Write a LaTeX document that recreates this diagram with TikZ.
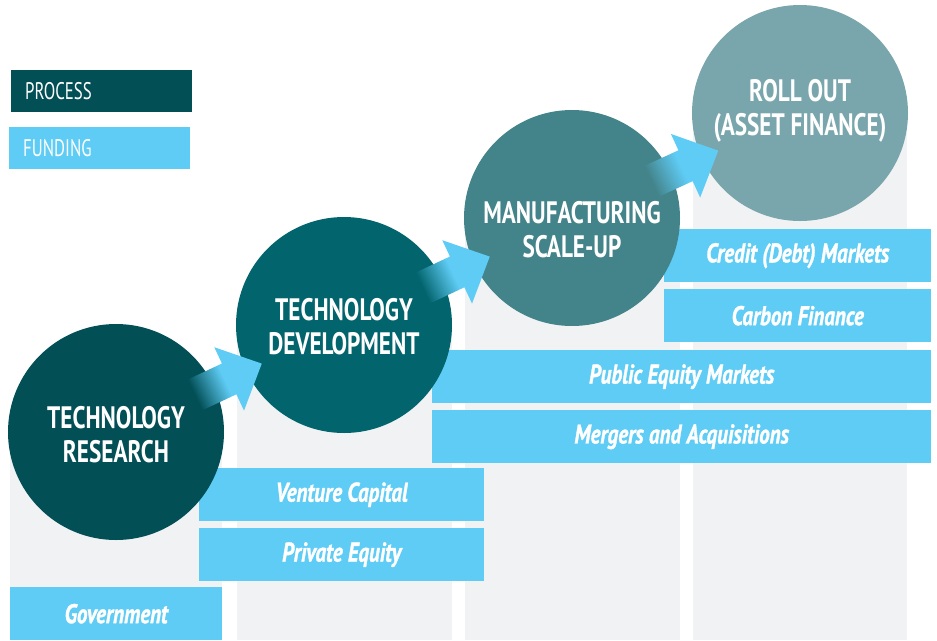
\documentclass[tikz,border=0pt]{standalone}
\usepackage{fontspec}
\usetikzlibrary{calc}
\newfontfamily\circfont[FakeStretch=0.75]{PT Sans}
\newfontfamily\fundfont[FakeStretch=0.78, FakeBold=1.2]{PT Sans}
\newfontfamily\legfont[FakeStretch=0.70]{PT Sans}
\definecolor{cA}{HTML}{024F56}
\definecolor{cB}{HTML}{02646D}
\definecolor{cC}{HTML}{43838A}
\definecolor{cD}{HTML}{79A6AC}
\definecolor{fund}{HTML}{5FCCF5}
\definecolor{colbg}{HTML}{F1F2F4}
\pgfdeclarehorizontalshading{shadeA}{100bp}{color(0bp)=(cA); color(30bp)=(cA); color(52bp)=(fund); color(100bp)=(fund)}
\pgfdeclarehorizontalshading{shadeB}{100bp}{color(0bp)=(cB); color(30bp)=(cB); color(52bp)=(fund); color(100bp)=(fund)}
\pgfdeclarehorizontalshading{shadeC}{100bp}{color(0bp)=(cC); color(30bp)=(cC); color(52bp)=(fund); color(100bp)=(fund)}
\newcommand{\stagearrow}[3]{%
  \path[shading=#3, shading angle=25]
    ($(#1)!80pt!(#2)$) coordinate (#1-t)
    ($(#1)!125pt!(#2)$) coordinate (#1-b)
    ($(#1)!161pt!(#2)$) coordinate (#1-h)
    ($(#1-t)!17pt!90:(#2)$) -- ($(#1-b)!17pt!90:(#1-h)$) -- ($(#1-b)!35pt!90:(#1-h)$)
    -- (#1-h) -- ($(#1-b)!35pt!-90:(#1-h)$) -- ($(#1-b)!17pt!-90:(#1-h)$)
    -- ($(#1-t)!17pt!-90:(#2)$) -- cycle;}
\begin{document}
\begin{tikzpicture}[x=1pt,y=-1pt,
  proc/.style={circle, minimum size=216pt, inner sep=0pt, draw=none},
  proctext/.style={text=white, align=center, inner sep=0pt,
    font=\circfont\bfseries\fontsize{31}{34}\selectfont},
  fundbox/.style={fill=fund, anchor=north west, minimum height=53pt, inner sep=0pt,
    text=white, font=\fundfont\bfseries\itshape\fontsize{27}{30}\selectfont},
  legbox/.style={anchor=north west, minimum height=42pt, inner xsep=14pt, inner ysep=0pt,
    text width=153pt, align=left, text=white, font=\legfont\fontsize{24}{28}\selectfont}]
\useasboundingbox (0,0) rectangle (937,640);
% columns
\fill[colbg] (10,432) rectangle (222,640);
\fill[colbg] (237,325) rectangle (452,640);
\fill[colbg] (465,218) rectangle (680,640);
\fill[colbg] (693,113) rectangle (907,640);
% legend
\node[legbox, fill=cA] (lproc) at (11,70) {PROCESS};
\node[legbox, fill=fund] (lfund) at (9,127) {FUNDING};
% funding boxes
\node[fundbox, minimum width=212pt] (gov) at (10,587) {Government};
\node[fundbox, minimum width=285pt] (vc) at (199,468) {Venture Capital};
\node[fundbox, minimum width=285pt] (pe) at (199,528) {Private Equity};
\node[fundbox, minimum width=499pt] (pub) at (432,350) {Public Equity Markets};
\node[fundbox, minimum width=499pt] (ma) at (432,410) {Mergers and Acquisitions};
\node[fundbox, minimum width=267pt] (cred) at (664,229) {Credit (Debt) Markets};
\node[fundbox, minimum width=267pt] (carb) at (664,289) {Carbon Finance};
% stages
\node[proc, fill=cA] (s1) at (116,432) {};
\node[proc, fill=cB] (s2) at (344,325) {};
\node[proc, fill=cC] (s3) at (572,218) {};
\node[proc, fill=cD] (s4) at (800,113) {};
\node[proctext] (s1t) at (116,434.5) {TECHNOLOGY\\RESEARCH};
\node[proctext] (s2t) at (344,327) {TECHNOLOGY\\DEVELOPMENT};
\node[proctext] (s3t) at (572,229.5) {MANUFACTURING\\SCALE-UP};
\node[proctext] (s4t) at (800,111) {ROLL OUT\\(ASSET FINANCE)};
% arrows
\stagearrow{s1}{s2}{shadeA}
\stagearrow{s2}{s3}{shadeB}
\stagearrow{s3}{s4}{shadeC}
\end{tikzpicture}
\end{document}
